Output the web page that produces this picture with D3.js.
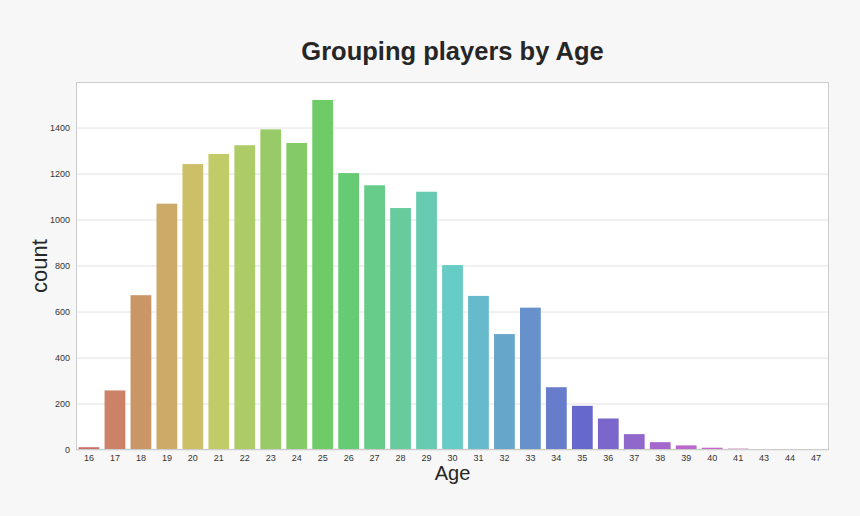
<!DOCTYPE html>
<html>
<head>
<meta charset="utf-8">
<script src="https://cdn.jsdelivr.net/npm/d3@7"></script>
<style>
  body { margin: 0; background: #f7f7f7; }
  svg { display: block; }
  text { font-family: "Liberation Sans", Arial, sans-serif; }
</style>
</head>
<body>
<svg id="chart" width="860" height="516"></svg>
<script>
const ages = ["16","17","18","19","20","21","22","23","24","25","26","27","28","29","30","31","32","33","34","35","36","37","38","39","40","41","43","44","47"];
const counts = [12,259,673,1071,1243,1287,1325,1394,1335,1522,1204,1151,1052,1123,804,670,504,619,273,192,137,69,34,20,10,6,2,1,1];
const yTicks = [0,200,400,600,800,1000,1200,1400];

const svg = d3.select("#chart");
const W = 860, H = 516;
const m = {left: 76, right: 31, top: 82, bottom: 66};
const iw = W - m.left - m.right, ih = H - m.top - m.bottom;

svg.append("rect").attr("width", W).attr("height", H).attr("fill", "#f7f7f7");

const x = d3.scaleBand().domain(ages).range([m.left, m.left + iw]).paddingInner(0.2).paddingOuter(0.1);
const y = d3.scaleLinear().domain([0, 1600]).range([m.top + ih, m.top]);

// plot background
svg.append("rect").attr("x", m.left).attr("y", m.top).attr("width", iw).attr("height", ih).attr("fill", "#ffffff");

// gridlines
svg.append("g").selectAll("line").data(yTicks).join("line")
  .attr("x1", m.left).attr("x2", m.left + iw)
  .attr("y1", d => y(d)).attr("y2", d => y(d))
  .attr("stroke", "#e2e2e2").attr("stroke-width", 1);

// seaborn hls palette, desaturated 0.75
function hlsToRgb(h, l, s) {
  function hue(m1, m2, hh) {
    hh = ((hh % 1) + 1) % 1;
    if (hh < 1/6) return m1 + (m2 - m1) * hh * 6;
    if (hh < 0.5) return m2;
    if (hh < 2/3) return m1 + (m2 - m1) * (2/3 - hh) * 6;
    return m1;
  }
  const m2 = l <= 0.5 ? l * (1 + s) : l + s - l * s;
  const m1 = 2 * l - m2;
  return d3.rgb(hue(m1, m2, h + 1/3) * 255, hue(m1, m2, h) * 255, hue(m1, m2, h - 1/3) * 255);
}
const n = ages.length;
const colors = ages.map((a, i) => {
  let h = (i / n + 0.01) % 1;
  return hlsToRgb(h, 0.6, 0.65 * 0.75).formatHex();
});

svg.append("g").selectAll("rect").data(ages).join("rect")
  .attr("x", d => x(d))
  .attr("width", x.bandwidth())
  .attr("y", (d, i) => y(counts[i]))
  .attr("height", (d, i) => y(0) - y(counts[i]))
  .attr("fill", (d, i) => colors[i]);

// plot border
svg.append("rect").attr("x", m.left + 0.5).attr("y", m.top + 0.5).attr("width", iw - 1).attr("height", ih - 1)
  .attr("fill", "none").attr("stroke", "#cccccc").attr("stroke-width", 1);

// axes
const yAxis = d3.axisLeft(y).tickValues(yTicks).tickFormat(d3.format("d")).tickSize(0).tickPadding(6);
const gy = svg.append("g").attr("transform", `translate(${m.left},0)`).call(yAxis);
gy.select(".domain").remove();
gy.selectAll("text").attr("font-size", 9).attr("fill", "#333");

const xAxis = d3.axisBottom(x).tickSize(0).tickPadding(5);
const gx = svg.append("g").attr("transform", `translate(0,${m.top + ih})`).call(xAxis);
gx.select(".domain").remove();
gx.selectAll("text").attr("font-size", 9).attr("fill", "#333");

// titles
svg.append("text").attr("x", m.left + iw / 2).attr("y", 60).attr("text-anchor", "middle")
  .attr("font-size", 25.5).attr("font-weight", "bold").attr("fill", "#262626").text("Grouping players by Age");
svg.append("text").attr("x", m.left + iw / 2).attr("y", 480).attr("text-anchor", "middle")
  .attr("font-size", 20).attr("fill", "#262626").text("Age");
svg.append("text").attr("transform", `translate(47,${m.top + ih / 2}) rotate(-90)`).attr("text-anchor", "middle")
  .attr("font-size", 22).attr("fill", "#262626").text("count");
</script>
</body>
</html>
